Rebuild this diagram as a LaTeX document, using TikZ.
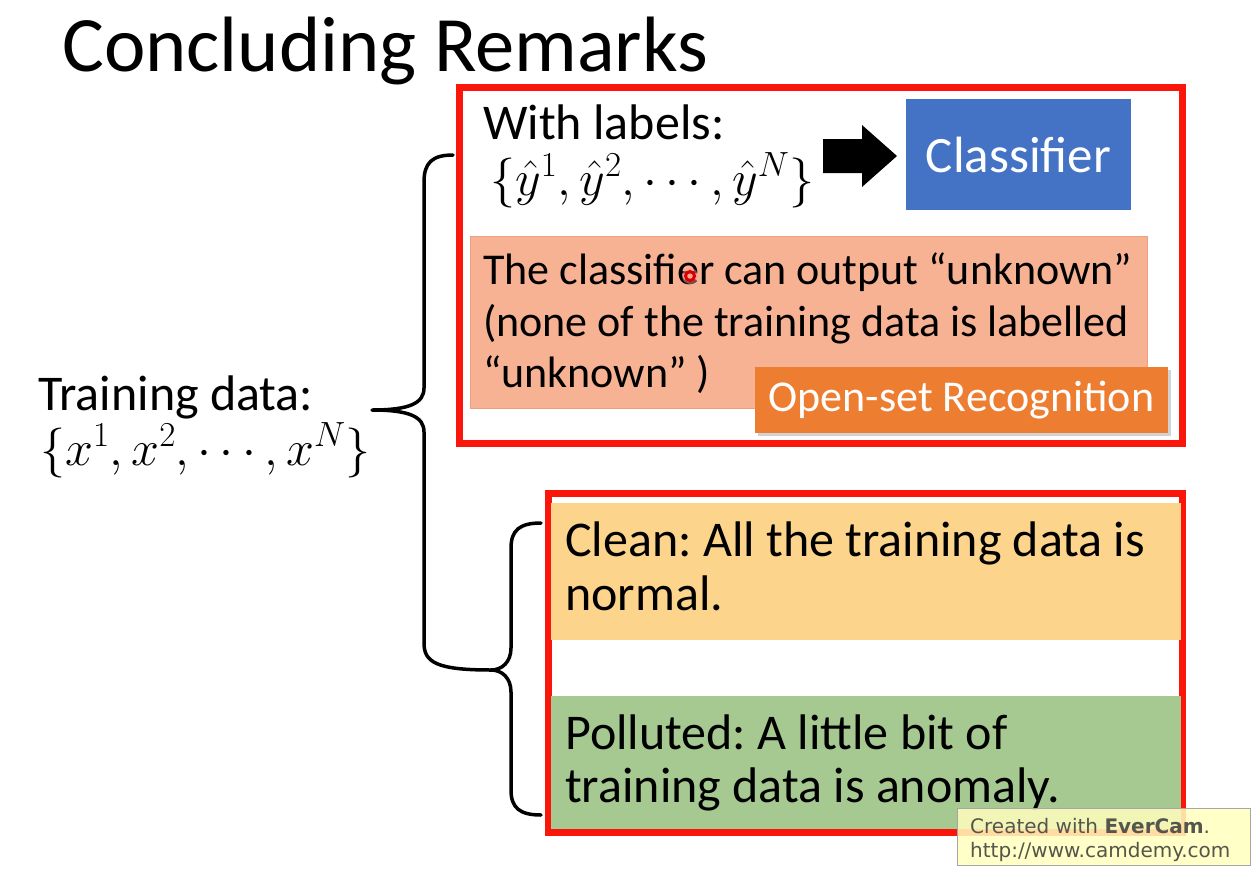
\RequirePackage{fix-cm}
\documentclass[tikz,border=0pt]{standalone}
\usepackage{fontspec}
\setmainfont{Carlito}
\newfontfamily\wmfont{DejaVu Sans}
\usetikzlibrary{shadows}
\frenchspacing

\definecolor{boxred}{RGB}{250,22,10}
\definecolor{clsblue}{RGB}{68,114,196}
\definecolor{salmonfill}{RGB}{247,178,147}
\definecolor{salmonline}{RGB}{236,160,125}
\definecolor{osrfill}{RGB}{237,125,49}
\definecolor{cleanfill}{RGB}{252,212,140}
\definecolor{pollfill}{RGB}{165,201,145}
\definecolor{wmfill}{RGB}{255,255,190}
\definecolor{wmtext}{RGB}{85,85,75}

\begin{document}
\begin{tikzpicture}[x=1pt,y=-1pt,
  body/.style={anchor=base west, inner sep=0pt, font=\fontsize{50}{54}\selectfont},
  note/.style={anchor=base west, inner sep=0pt, font=\fontsize{44}{48}\selectfont},
  redframe/.style={draw=boxred, line width=7pt},
  bracepen/.style={draw=black, line width=3.5pt, line cap=round, line join=round},
  wm/.style={anchor=base west, inner sep=0pt, text=wmtext, font=\wmfont\fontsize{20}{22}\selectfont}]
\useasboundingbox (0,0) rectangle (1254,876);
\fill[white] (0,0) rectangle (1254,876);

% heading
\node[anchor=base west, inner sep=0pt, font=\fontsize{78.5}{82}\selectfont] (title) at (62,71) {Concluding Remarks};

% left side: the whole training set
\node[body] (train) at (38,410) {Training data:};
\node[body] (trainset) at (40,465) {$\{x^1,x^2,\cdots,x^N\}$};

% upper frame: labelled data
\draw[redframe] (459,87) rectangle (1182,443);
\node[body] (withlab) at (483,139) {With labels:};
\node[body] (labset) at (490,195) {$\{\hat{y}^1,\hat{y}^2,\cdots,\hat{y}^N\}$};
\fill (823,139) -- (862,139) -- (862,125) -- (897,156) -- (862,187) -- (862,173) -- (823,173) -- cycle;
\node[fill=clsblue, text=white, minimum width=225pt, minimum height=111pt, inner sep=0pt,
      font=\fontsize{51}{55}\selectfont] (cls) at (1018.5,154.5) {Classifier};

\node[draw=salmonline, fill=salmonfill, line width=1pt, minimum width=677pt, minimum height=172pt,
      inner sep=0pt] (unk) at (808.5,322) {};
\node[note] (unk1) at (483,284) {The classifier can output “unknown”};
\node[note] (unk2) at (483,336) {(none of the training data is labelled};
\node[note] (unk3) at (483,387) {“unknown” )};
\fill[red!40, opacity=0.5] (690,276) circle (8pt);
\draw[red!85!black, line width=3pt] (690,276) circle (4.5pt);

\node[fill=osrfill, text=white, minimum width=413pt, minimum height=66pt, inner sep=0pt,
      drop shadow={opacity=0.35, shadow xshift=3pt, shadow yshift=-3pt},
      font=\fontsize{44}{48}\selectfont] (osr) at (961.5,400) {Open-set Recognition};

% lower frame: unlabelled data
\draw[redframe] (548,493) rectangle (1182,832);
\node[fill=cleanfill, minimum width=630pt, minimum height=137pt, inner sep=0pt] (clean) at (866,571.5) {};
\node[body] (clean1) at (565,556) {Clean: All the training data is};
\node[body] (clean2) at (565,610) {normal.};
\node[fill=pollfill, minimum width=630pt, minimum height=133pt, inner sep=0pt] (poll) at (866,762) {};
\node[body] (poll1) at (565,749) {Polluted: A little bit of};
\node[body] (poll2) at (565,802) {training data is anomaly.};

% braces
\coordinate (bigtop) at (453,155);
\coordinate (bigtip) at (372,410);
\coordinate (join) at (491,670);
\coordinate (smalltop) at (541,523);
\coordinate (smallbot) at (541,815);
\draw[bracepen] (bigtop) .. controls (432,155) and (424,163) .. (424,182) -- (424,388)
  .. controls (424,403) and (410,410) .. (bigtip)
  .. controls (410,410) and (424,417) .. (424,432) -- (424,643)
  .. controls (424,662) and (436,670) .. (join);
\draw[bracepen] (smalltop) .. controls (520,523) and (511,530) .. (511,548) -- (511,648)
  .. controls (511,662) and (502,670) .. (join)
  .. controls (502,670) and (511,678) .. (511,692) -- (511,790)
  .. controls (511,808) and (520,815) .. (smallbot);

% recorder watermark
\node[fill=wmfill, fill opacity=0.85, draw=gray!70, line width=1pt, minimum width=293pt,
      minimum height=57pt, inner sep=0pt] (wmbox) at (1103.5,836.5) {};
\node[wm] (wm1) at (970,833) {Created with \textbf{EverCam}.};
\node[wm] (wm2) at (970,857) {http://www.camdemy.com};
\end{tikzpicture}
\end{document}
